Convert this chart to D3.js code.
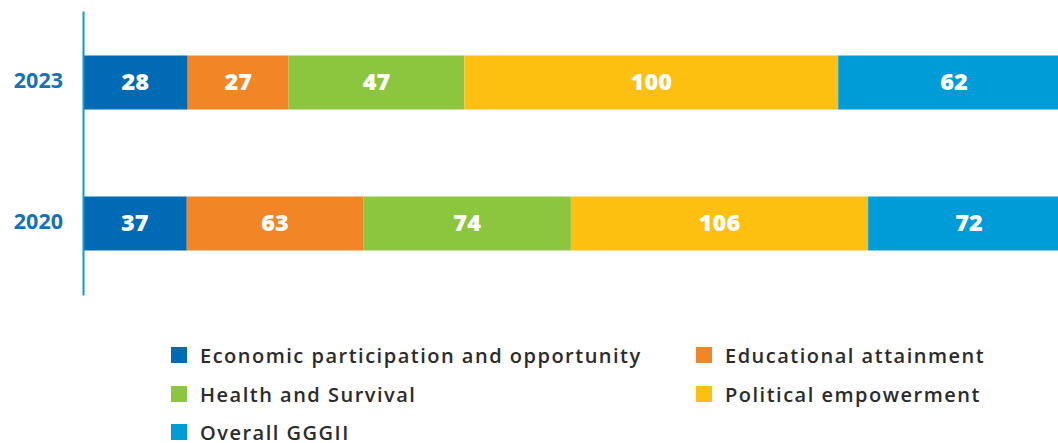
<!DOCTYPE html>
<html>
<head>
<meta charset="utf-8">
<script src="https://cdn.jsdelivr.net/npm/d3@7"></script>
<style>
html,body{margin:0;padding:0;background:#fff;}
svg{display:block;}
</style>
</head>
<body>
<svg id="chart" width="1058" height="443"></svg>
<script>
const years = ["2023", "2020"];
const seriesNames = ["Economic participation and opportunity", "Educational attainment", "Health and Survival", "Political empowerment", "Overall GGGII"];
const seriesKeys = ["econ", "edu", "health", "pol", "overall"];
const econ = [28, 37];
const edu = [27, 63];
const health = [47, 74];
const pol = [100, 106];
const overall = [62, 72];
const colors = ["#006bb5", "#f28526", "#8cc63f", "#fdc010", "#009cd8"];

const FONT = "'Open Sans', sans-serif";
const svg = d3.select("#chart");

const rows = years.map((y, i) => ({year: y, econ: econ[i], edu: edu[i], health: health[i], pol: pol[i], overall: overall[i]}));
const stacked = d3.stack().keys(seriesKeys).offset(d3.stackOffsetExpand)(rows);

const x = d3.scaleLinear().domain([0, 1]).range([83, 1070]);
const y = d3.scaleBand().domain(years).range([11, 295]).paddingInner(0.617).paddingOuter(0.3156);
const color = d3.scaleOrdinal().domain(seriesKeys).range(colors);

const g = svg.append("g");
stacked.forEach((layer) => {
  const lg = g.append("g");
  lg.selectAll("rect").data(layer).join("rect")
    .attr("x", d => x(d[0]))
    .attr("y", d => y(d.data.year))
    .attr("width", d => x(d[1]) - x(d[0]))
    .attr("height", y.bandwidth())
    .attr("fill", color(layer.key));
  lg.selectAll("text").data(layer).join("text")
    .attr("x", d => (x(d[0]) + x(d[1])) / 2)
    .attr("y", d => y(d.data.year) + y.bandwidth() / 2 + 7.8)
    .attr("text-anchor", "middle")
    .attr("fill", "#fff")
    .attr("font-family", FONT)
    .attr("font-weight", 800)
    .attr("font-size", 23.5)
    .text(d => d.data[layer.key]);
});

// axis
const axis = d3.axisLeft(y).tickSize(0).tickPadding(20);
const ag = svg.append("g").attr("transform", "translate(83,0)").call(axis);
ag.select(".domain").attr("stroke", "#0d9ad6").attr("stroke-width", 2);
ag.selectAll("text")
  .attr("font-family", FONT)
  .attr("font-weight", 700)
  .attr("font-size", 21.5)
  .attr("fill", "#1770b8")
  .attr("dy", null)
  .attr("y", 5.3);

// legend
const legendPos = [[171, 347], [696, 347], [171, 386], [696, 386], [171, 424]];
const lg = svg.append("g");
seriesKeys.forEach((k, i) => {
  const [lx, ly] = legendPos[i];
  lg.append("rect").attr("x", lx).attr("y", ly).attr("width", 16).attr("height", 16).attr("fill", color(k));
  lg.append("text").attr("x", lx + 29).attr("y", ly + 16)
    .attr("font-family", FONT).attr("font-weight", 600).attr("font-size", 20)
    .attr("letter-spacing", 1.5)
    .attr("fill", "#2b2b2b").text(seriesNames[i]);
});
</script>
</body>
</html>
